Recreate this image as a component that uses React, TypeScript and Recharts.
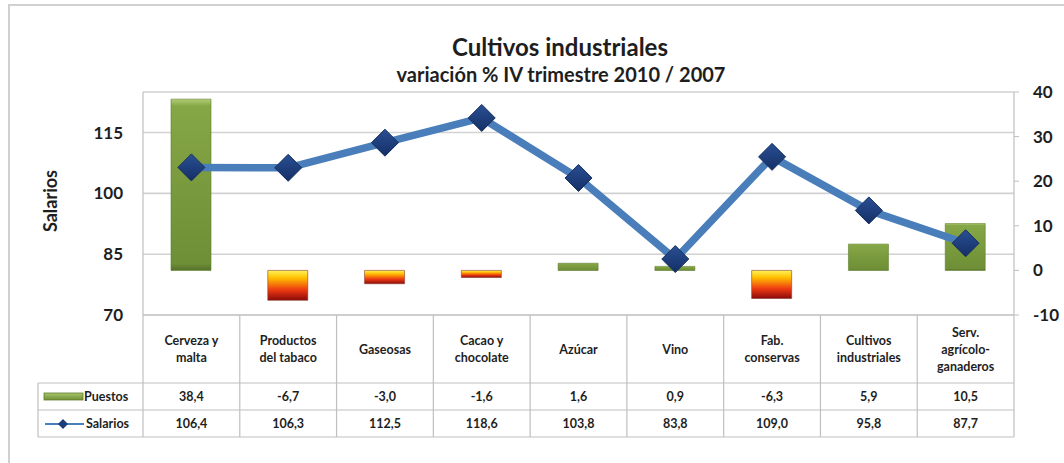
import React from 'react';
import { ComposedChart, Bar, Line, XAxis, YAxis, CartesianGrid, Cell } from 'recharts';

const categories = [
  'Cerveza y\nmalta',
  'Productos\ndel tabaco',
  'Gaseosas',
  'Cacao y\nchocolate',
  'Azúcar',
  'Vino',
  'Fab.\nconservas',
  'Cultivos\nindustriales',
  'Serv.\nagrícolo-\nganaderos',
];
const puestos = [38.4, -6.7, -3.0, -1.6, 1.6, 0.9, -6.3, 5.9, 10.5];
const salarios = [106.4, 106.3, 112.5, 118.6, 103.8, 83.8, 109.0, 95.8, 87.7];
const leftTicks = [70, 85, 100, 115];
const rightTicks = [-10, 0, 10, 20, 30, 40];

const data = categories.map((name, i) => ({ name, puestos: puestos[i], salarios: salarios[i] }));

const W = 1064;
const H = 463;
const PL = 143;
const PR = 1014;
const PT = 92;
const PB = 315;
const ROW1 = 383;
const ROW2 = 410;
const ROW3 = 437;
const LEG_X = 38;
const BW = (PR - PL) / categories.length;
const BORDER = '#bfbfbf';
const TXT = '#1e1e1e';
const LINE_COLOR = '#4a7ebb';
const DOT_COLOR = '#1c3c7a';
const DOT_R = 13.5;

const fmt = (v: number) => v.toFixed(1).replace('.', ',');

const Diamond = (props: any) => {
  const { cx, cy } = props;
  if (cx == null || cy == null) return null;
  const r = DOT_R;
  return (
    <polygon
      points={`${cx},${cy - r} ${cx + r},${cy} ${cx},${cy + r} ${cx - r},${cy}`}
      fill="url(#diamondGrad)"
      stroke="#16305f"
      strokeWidth={1}
    />
  );
};

const TableTick = (props: any) => {
  const { x, payload } = props;
  const i = payload.index;
  const lines = categories[i].split('\n');
  const left = x - BW / 2;
  const right = x + BW / 2;
  const hc = (PB + ROW1) / 2;
  const lh = 17;
  const startY = hc - ((lines.length - 1) * lh) / 2;
  const textStyle = { fontSize: 12.5, fontWeight: 700, fill: TXT } as any;
  return (
    <g>
      <line x1={left} y1={PB} x2={left} y2={ROW3} stroke={BORDER} strokeWidth={1.2} />
      {i === categories.length - 1 && (
        <line x1={right} y1={PB} x2={right} y2={ROW3} stroke={BORDER} strokeWidth={1.2} />
      )}
      <line x1={left} y1={ROW1} x2={right} y2={ROW1} stroke={BORDER} strokeWidth={1.2} />
      <line x1={left} y1={ROW2} x2={right} y2={ROW2} stroke={BORDER} strokeWidth={1.2} />
      <line x1={left} y1={ROW3} x2={right} y2={ROW3} stroke={BORDER} strokeWidth={1.2} />
      {lines.map((l, k) => (
        <text key={k} x={x} y={startY + k * lh} textAnchor="middle" dominantBaseline="central" style={textStyle}>
          {l}
        </text>
      ))}
      <text x={x} y={(ROW1 + ROW2) / 2} textAnchor="middle" dominantBaseline="central" style={textStyle}>
        {fmt(puestos[i])}
      </text>
      <text x={x} y={(ROW2 + ROW3) / 2} textAnchor="middle" dominantBaseline="central" style={textStyle}>
        {fmt(salarios[i])}
      </text>
      {i === 0 && (
        <g>
          <line x1={LEG_X} y1={ROW1} x2={left} y2={ROW1} stroke={BORDER} strokeWidth={1.2} />
          <line x1={LEG_X} y1={ROW2} x2={left} y2={ROW2} stroke={BORDER} strokeWidth={1.2} />
          <line x1={LEG_X} y1={ROW3} x2={left} y2={ROW3} stroke={BORDER} strokeWidth={1.2} />
          <line x1={LEG_X} y1={ROW1} x2={LEG_X} y2={ROW3} stroke={BORDER} strokeWidth={1.2} />
          <rect x={44} y={393} width={39} height={7} fill="url(#greenLeg)" stroke="#5f7d2b" strokeWidth={0.8} />
          <text x={84} y={(ROW1 + ROW2) / 2} dominantBaseline="central" style={textStyle}>
            Puestos
          </text>
          <line x1={45} y1={424} x2={84} y2={424} stroke={LINE_COLOR} strokeWidth={1.8} />
          <polygon points="63,419 68,424 63,429 58,424" fill={DOT_COLOR} />
          <text x={86} y={(ROW2 + ROW3) / 2} dominantBaseline="central" style={textStyle}>
            Salarios
          </text>
        </g>
      )}
    </g>
  );
};

export default function App() {
  return (
    <div
      style={{
        position: 'absolute',
        left: 0,
        top: 0,
        width: W,
        height: H,
        background: '#ffffff',
        fontFamily: 'Lato, "Open Sans", sans-serif',
        overflow: 'hidden',
      }}
    >
      <svg width={0} height={0} style={{ position: 'absolute' }}>
        <defs>
          <linearGradient id="greenGrad" x1="0" y1="0" x2="0" y2="1">
            <stop offset="0%" stopColor="#b2cd76" />
            <stop offset="4%" stopColor="#86a746" />
            <stop offset="50%" stopColor="#7a9a3e" />
            <stop offset="96%" stopColor="#6f8f37" />
            <stop offset="100%" stopColor="#54712b" />
          </linearGradient>
          <linearGradient id="greenLeg" x1="0" y1="0" x2="0" y2="1">
            <stop offset="0%" stopColor="#a8c56a" />
            <stop offset="100%" stopColor="#6f8f37" />
          </linearGradient>
          <linearGradient id="redGrad" x1="0" y1="0" x2="0" y2="1">
            <stop offset="0%" stopColor="#fff35a" />
            <stop offset="25%" stopColor="#ffc000" />
            <stop offset="65%" stopColor="#ee3a12" />
            <stop offset="100%" stopColor="#8a0a0a" />
          </linearGradient>
          <linearGradient id="diamondGrad" x1="0" y1="0" x2="0" y2="1">
            <stop offset="0%" stopColor="#2a4f93" />
            <stop offset="100%" stopColor="#142f66" />
          </linearGradient>
        </defs>
      </svg>
      <ComposedChart
        width={W}
        height={H}
        data={data}
        margin={{ top: PT, right: 0, bottom: H - ROW3, left: PL - 100 }}
      >
        <CartesianGrid yAxisId="left" vertical={false} stroke="#d2d2d2" strokeWidth={1.6} />
        <XAxis
          dataKey="name"
          xAxisId={0}
          height={ROW3 - PB}
          interval={0}
          tickLine={false}
          tickSize={0}
          axisLine={{ stroke: BORDER, strokeWidth: 1.2 }}
          tick={<TableTick />}
        />
        <YAxis
          yAxisId="left"
          orientation="left"
          width={100}
          domain={[70, 125]}
          ticks={leftTicks}
          allowDataOverflow
          tickLine={false}
          tickSize={0}
          tickMargin={20}
          axisLine={{ stroke: BORDER, strokeWidth: 1.2 }}
          tick={{ fontSize: 17, fontWeight: 700, fill: TXT }}
        />
        <YAxis
          yAxisId="right"
          orientation="right"
          width={50}
          domain={[-10, 40]}
          ticks={rightTicks}
          tickLine={{ stroke: BORDER }}
          tickSize={5}
          tickMargin={14}
          axisLine={{ stroke: BORDER, strokeWidth: 1.2 }}
          tick={{ fontSize: 17, fontWeight: 700, fill: TXT, textAnchor: 'start' }}
        />
        <Bar yAxisId="right" dataKey="puestos" barSize={40} isAnimationActive={false}>
          {data.map((d, i) => (
            <Cell key={i} fill={d.puestos >= 0 ? 'url(#greenGrad)' : 'url(#redGrad)'} stroke={d.puestos >= 0 ? '#5f7d2b' : '#8a3a2a'} strokeWidth={0.6} />
          ))}
        </Bar>
        <Line
          yAxisId="left"
          dataKey="salarios"
          stroke={LINE_COLOR}
          strokeWidth={7.5}
          strokeLinejoin="round"
          dot={<Diamond />}
          activeDot={false}
          isAnimationActive={false}
        />
      </ComposedChart>
      <svg
        width={W}
        height={H}
        style={{ position: 'absolute', left: 0, top: 0, pointerEvents: 'none' }}
      >
        <rect x={9} y={5} width={W + 20} height={H + 20} fill="none" stroke="#d0d0d0" strokeWidth={2} />
        <text x={560} y={46} textAnchor="middle" dominantBaseline="central" style={{ fontSize: 24, fontWeight: 700, fill: TXT }}>
          Cultivos industriales
        </text>
        <text x={561} y={74} textAnchor="middle" dominantBaseline="central" style={{ fontSize: 20, fontWeight: 700, fill: TXT }}>
          variación % IV trimestre 2010 / 2007
        </text>
        <text
          x={50}
          y={201}
          textAnchor="middle"
          dominantBaseline="central"
          transform="rotate(-90 50 201)"
          style={{ fontSize: 18, fontWeight: 700, fill: TXT }}
        >
          Salarios
        </text>
      </svg>
    </div>
  );
}
